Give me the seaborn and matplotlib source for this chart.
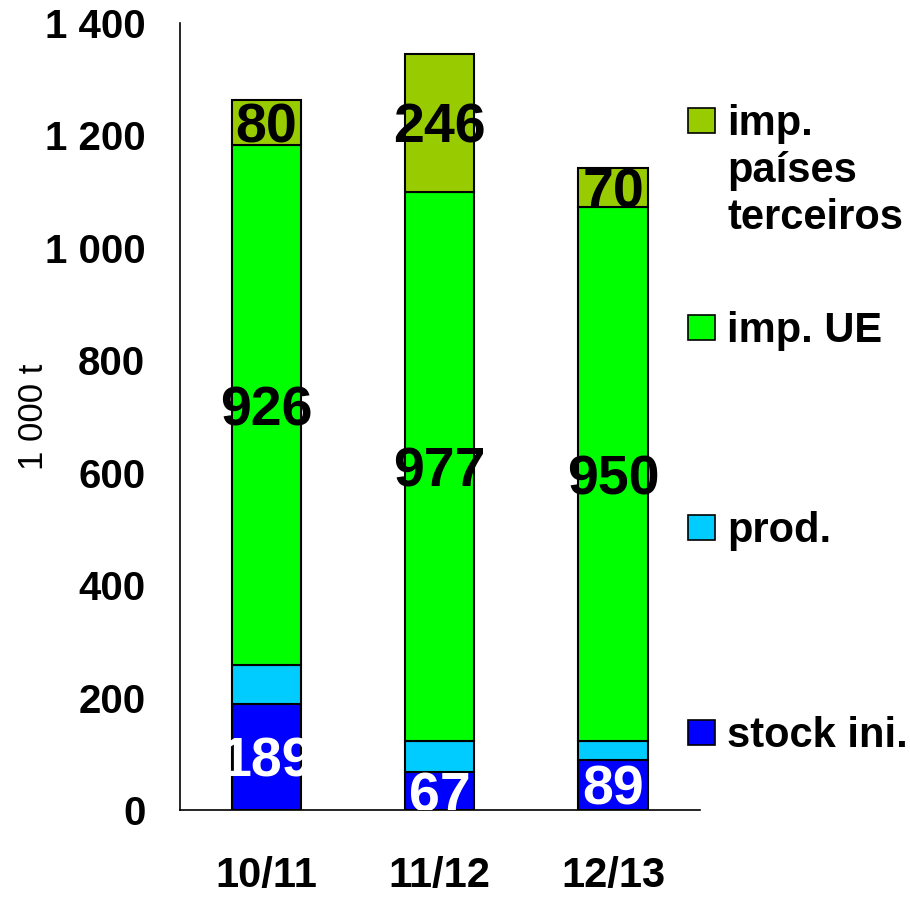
import numpy as np
import pandas as pd
import matplotlib
matplotlib.use('Agg')
import matplotlib.pyplot as plt
from matplotlib.patches import Rectangle
import seaborn as sns

seasons = ['10/11', '11/12', '12/13']
stock_ini = [189, 67, 89]
prod = [68, 55, 33]
imp_ue = [926, 977, 950]
imp_terc = [80, 246, 70]

series_names = ['stock ini.', 'prod.', 'imp. UE', 'imp.\npaíses\nterceiros']
series_vals = [stock_ini, prod, imp_ue, imp_terc]
series_cols = ['#0000FF', '#00CCFF', '#00FF00', '#99CC00']
label_cols = ['white', None, 'black', 'black']

sns.set_style('white')
plt.rcParams['font.family'] = ['Liberation Sans', 'DejaVu Sans']
plt.rcParams['text.color'] = 'black'
plt.rcParams['axes.labelcolor'] = 'black'
plt.rcParams['xtick.color'] = 'black'
plt.rcParams['ytick.color'] = 'black'

fig = plt.figure(figsize=(9.1, 8.98), dpi=100)
ax = fig.add_axes([0.1978, 0.098, 0.571, 0.8766])

bottom = np.zeros(len(seasons))
for name, vals, col, lcol in zip(series_names, series_vals, series_cols, label_cols):
    sns.barplot(x=seasons, y=vals, bottom=bottom, color=col, width=0.4,
                edgecolor='black', linewidth=1.5, saturation=1, ax=ax)
    if lcol is not None:
        for i, v in enumerate(vals):
            ax.text(i, bottom[i] + v / 2, str(v), ha='center', va='center_baseline',
                    fontsize=40, fontweight='bold', color=lcol, clip_on=True)
    bottom = bottom + np.array(vals)

ax.set_xlim(-0.5, 2.5)
ax.set_ylim(0, 1400)
ax.set_yticks(range(0, 1401, 200))
ax.set_yticklabels([f'{t:,}'.replace(',', ' ') for t in range(0, 1401, 200)],
                   fontsize=29, fontweight='bold')
ax.set_xticks(range(3))
ax.set_xticklabels(seasons, fontsize=30, fontweight='bold')
ax.tick_params(axis='y', direction='in', length=11, width=1, color='#555555', pad=25)
ax.tick_params(axis='x', length=0, pad=33)
ax.set_ylabel('1 000 t', fontsize=25, labelpad=-4)
ax.set_xlabel('')
for s in ['top', 'right']:
    ax.spines[s].set_visible(False)
for s in ['left', 'bottom']:
    ax.spines[s].set_color('black')
    ax.spines[s].set_linewidth(1.2)

# legend drawn by hand to match the layout
leg_y = [120, 327, 527, 732]
for name, col, yy in zip(series_names[::-1], series_cols[::-1], leg_y):
    fy = 1 - yy / 898
    fig.patches.append(Rectangle((688 / 910, fy - 12.5 / 898), 27 / 910, 25 / 898,
                                 facecolor=col, edgecolor='black', linewidth=1.2,
                                 transform=fig.transFigure))
    fig.text(727 / 910, fy + 16 / 898, name, ha='left', va='top', fontsize=30,
             fontweight='bold', linespacing=1.23)

fig.savefig('out.png', dpi=100)
